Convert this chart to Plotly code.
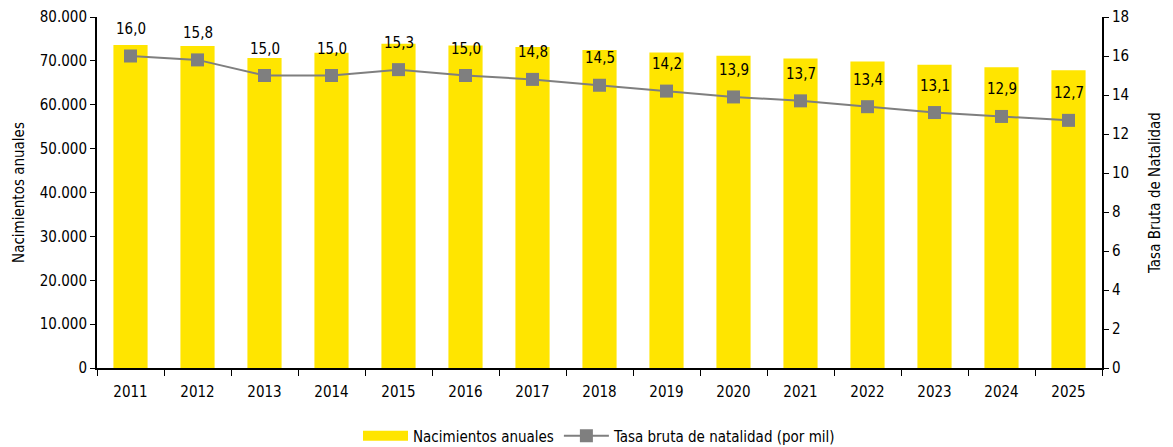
import plotly.graph_objects as go

years = ["2011", "2012", "2013", "2014", "2015", "2016", "2017", "2018",
         "2019", "2020", "2021", "2022", "2023", "2024", "2025"]
births = [73600, 73370, 70630, 71840, 73900, 73530, 73140, 72460,
          71930, 71160, 70550, 69860, 69100, 68570, 67890]
rate = [16.0, 15.8, 15.0, 15.0, 15.3, 15.0, 14.8, 14.5,
        14.2, 13.9, 13.7, 13.4, 13.1, 12.9, 12.7]

FONT = "Liberation Sans Narrow, Arial Narrow, DejaVu Sans Condensed, sans-serif"
YELLOW = "#FFE500"
GREY = "#7F7F7F"

fig = go.Figure()
fig.add_trace(go.Bar(
    x=years, y=births, name="Nacimientos anuales",
    marker=dict(color=YELLOW, line=dict(width=0)),
    yaxis="y", showlegend=False,
))
# legend entry drawn as a wide yellow block, like the reference
fig.add_trace(go.Scatter(
    x=[None], y=[None], name="Nacimientos anuales", mode="lines",
    line=dict(color=YELLOW, width=12), yaxis="y", showlegend=True,
))
fig.add_trace(go.Scatter(
    x=years, y=rate, name="Tasa bruta de natalidad (por mil)",
    mode="lines+markers",
    line=dict(color=GREY, width=2),
    marker=dict(symbol="square", size=13, color=GREY),
    yaxis="y2",
))

for i, r in enumerate(rate):
    fig.add_annotation(x=i, y=r, yref="y2", xref="x",
                       text=f"{r:.1f}".replace(".", ","),
                       showarrow=False, yshift=27,
                       font=dict(size=15, color="#000000", family=FONT))

fig.update_layout(
    width=1165, height=439,
    margin=dict(l=89, r=71, t=9, b=79),
    paper_bgcolor="white", plot_bgcolor="white",
    separators=",.",
    font=dict(family=FONT, size=15, color="#000000"),
    bargap=0.49,
    showlegend=True,
    legend=dict(orientation="h", x=0.5, xanchor="center",
                yref="container", y=0.025, yanchor="middle",
                font=dict(size=15, family=FONT), itemwidth=45,
                traceorder="normal"),
    xaxis=dict(
        type="category", range=[-0.5, len(years) - 0.5], automargin=False,
        showline=True, linecolor="#000000", linewidth=2,
        ticks="outside", tickson="boundaries", ticklen=6, tickcolor="#000000",
        tickfont=dict(size=15), showgrid=False, tickangle=0,
        ticklabelstandoff=9,
    ),
    yaxis=dict(
        range=[0, 80000], dtick=10000, tickformat=",d", automargin=False,
        showline=True, linecolor="#000000", linewidth=2,
        ticks="outside", ticklen=5, tickcolor="#000000",
        showgrid=False, zeroline=False,
        title=dict(text="Nacimientos anuales", font=dict(size=15), standoff=12),
        tickfont=dict(size=15),
    ),
    yaxis2=dict(
        range=[0, 18], dtick=2, overlaying="y", side="right", automargin=False,
        showline=True, linecolor="#000000", linewidth=2,
        ticks="outside", ticklen=5, tickcolor="#000000",
        showgrid=False, zeroline=False,
        title=dict(text="Tasa Bruta de Natalidad", font=dict(size=15), standoff=21),
        tickfont=dict(size=15),
    ),
)

fig.write_html("out.html")
